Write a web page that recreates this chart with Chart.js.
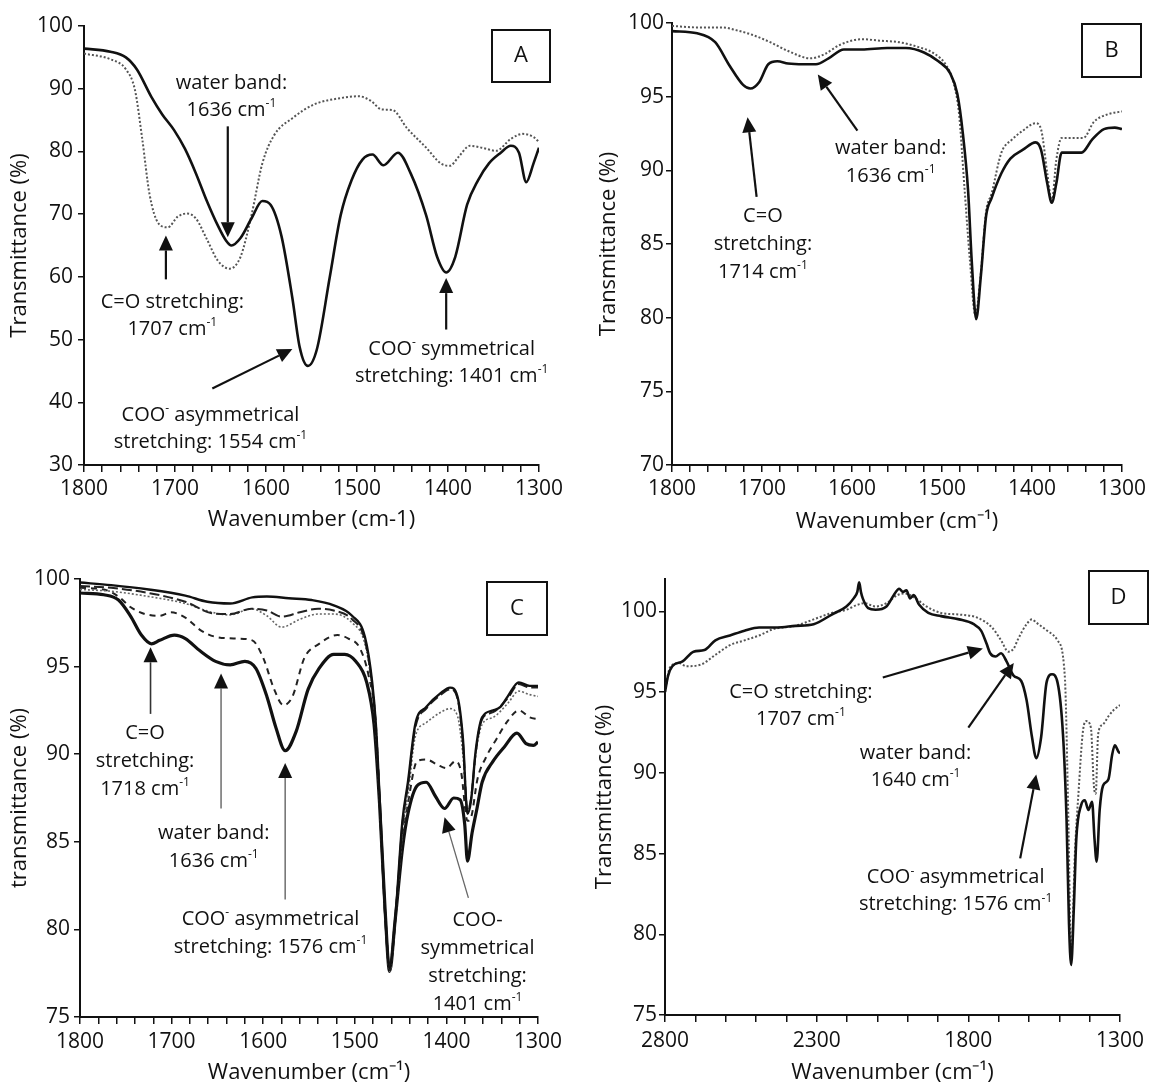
<!DOCTYPE html>
<html>
<head>
<meta charset="utf-8">
<script src="https://cdn.jsdelivr.net/npm/chart.js@4.4.1/dist/chart.umd.min.js"></script>
<style>
body { margin: 0; background: #fff; }
#fig { position: relative; width: 1150px; height: 1086px; }
.panel { position: absolute; width: 575px; height: 543px; }
</style>
</head>
<body>
<div id="fig">
  <div class="panel" style="left:0;top:0"><canvas id="chart-a" width="575" height="543"></canvas></div>
  <div class="panel" style="left:575px;top:0"><canvas id="chart-b" width="575" height="543"></canvas></div>
  <div class="panel" style="left:0;top:543px"><canvas id="chart-c" width="575" height="543"></canvas></div>
  <div class="panel" style="left:575px;top:543px"><canvas id="chart-d" width="575" height="543"></canvas></div>
</div>
<script>
// ---- panel A ----
const aSolidWn = [1800,1771,1754,1742,1726,1714,1701,1689,1677,1665,1653,1644,1638,1628,1616,1604,1595,1583,1571,1563,1554,1544,1530,1518,1506,1494,1483,1471,1455,1441,1424,1412,1402,1392,1379,1367,1355,1342,1331,1322,1314,1306,1300];
const aSolidT  = [96.4,95.9,95.0,93.1,88.7,85.9,83.4,80.4,76.5,72.1,68.2,65.8,65.0,66.2,69.3,72.1,71.5,66.5,56.6,48.8,45.8,48.5,59.9,69.8,75.4,78.7,79.5,77.8,79.8,76.5,69.8,63.2,60.7,63.2,71.5,75.4,78.1,79.8,80.9,79.8,75.1,78.1,80.6];
const aDotWn = [1800,1771,1754,1744,1736,1728,1718,1708,1697,1687,1677,1665,1653,1640,1628,1616,1604,1591,1571,1547,1518,1498,1485,1473,1461,1445,1424,1408,1398,1388,1376,1363,1347,1331,1318,1306,1300];
const aDotT  = [95.6,94.7,93.1,89.8,82.0,73.2,68.5,67.9,69.6,70.1,69.3,66.0,62.6,61.3,63.2,69.8,78.1,82.6,85.3,87.5,88.5,88.8,88.1,86.7,86.6,83.7,80.6,78.1,77.7,79.2,80.9,80.6,80.1,82.0,82.8,82.3,81.5];
const aXLabels = [1800,1700,1600,1500,1400,1300];
const aYLabels = [30,40,50,60,70,80,90,100];

// ---- panel B ----
const bSolidWn = [1800,1772,1752,1736,1721,1713,1703,1693,1683,1671,1654,1640,1626,1609,1589,1561,1540,1520,1504,1491,1483,1477,1471,1467,1462,1457,1451,1445,1434,1424,1410,1396,1390,1383,1378,1373,1367,1359,1345,1333,1320,1308,1300];
const bSolidT  = [99.45,99.3,98.7,97.1,95.8,95.55,96.0,97.2,97.4,97.25,97.2,97.2,97.6,98.2,98.2,98.3,98.3,98.0,97.4,96.6,95.2,92.6,88.6,83.9,79.9,82.7,86.9,88.1,89.8,90.8,91.4,91.9,91.4,89.1,87.8,89.1,91.2,91.2,91.2,92.1,92.8,92.9,92.8];
const bDotWn = [1800,1772,1744,1728,1711,1691,1671,1646,1630,1614,1589,1569,1548,1528,1508,1495,1487,1481,1475,1469,1463,1457,1451,1445,1434,1422,1410,1396,1390,1383,1378,1373,1367,1356,1343,1331,1316,1300];
const bDotT  = [99.8,99.7,99.7,99.5,99.2,98.7,98.1,97.6,97.9,98.5,98.9,98.8,98.7,98.4,97.9,97.1,95.9,93.8,88.8,83.9,80.2,82.9,87.2,88.4,91.2,92.1,92.7,93.2,92.8,89.8,87.9,90.7,92.2,92.2,92.2,93.3,93.8,94.0];
const bXLabels = [1800,1700,1600,1500,1400,1300];
const bYLabels = [70,75,80,85,90,95,100];

// ---- panel C ----
const cTopWn = [1800,1766,1725,1685,1661,1636,1612,1596,1572,1547,1523,1503,1489,1481,1477,1472,1467,1462,1456,1448,1442,1434,1422,1406,1396,1388,1382,1377,1373,1368,1361,1349,1341,1333,1321,1309,1300];
const cTopT  = [99.8,99.65,99.4,99.05,98.7,98.6,98.95,99.0,98.9,98.8,98.5,97.9,96.7,94.1,91.7,86.5,81.0,77.8,80.5,86.2,88.4,91.7,92.7,93.5,93.8,93.3,90.9,86.6,87.4,90.2,92.1,92.5,92.7,93.3,94.1,93.9,93.9];
const cLongWn = [1800,1766,1725,1685,1656,1636,1613,1596,1580,1560,1540,1523,1503,1489,1481,1477,1472,1467,1462,1456,1448,1442,1434,1422,1406,1396,1388,1382,1377,1373,1368,1361,1349,1333,1321,1309,1300];
const cLongT  = [99.6,99.5,99.2,98.7,98.05,98.0,98.3,98.2,97.85,98.1,98.3,98.2,97.7,96.5,93.9,91.5,86.3,80.9,77.7,80.4,86.0,88.2,91.5,92.6,93.4,93.7,93.2,90.7,86.8,87.5,90.1,92.0,92.4,93.2,94.0,93.8,93.8];
const cDotWn = [1800,1766,1725,1685,1656,1636,1613,1596,1580,1560,1540,1523,1503,1489,1481,1477,1472,1467,1462,1456,1448,1442,1434,1422,1406,1396,1388,1382,1377,1373,1368,1361,1349,1333,1321,1309,1300];
const cDotT  = [99.4,99.3,99.0,98.6,98.1,97.95,98.3,97.9,97.25,97.7,98.0,98.0,97.5,96.3,93.7,91.4,86.2,80.8,77.6,80.3,85.6,87.6,91.0,91.8,92.4,92.6,92.2,90.0,86.8,87.5,90.0,91.7,92.1,92.9,93.6,93.4,93.3];
const cDashWn = [1800,1774,1758,1745,1729,1713,1701,1685,1669,1652,1628,1612,1600,1588,1578,1568,1555,1539,1519,1507,1495,1485,1477,1472,1467,1462,1456,1448,1442,1432,1422,1410,1400,1390,1384,1377,1373,1366,1357,1345,1333,1321,1309,1300];
const cDashT  = [99.5,99.4,99.0,98.4,98.0,97.9,98.1,97.8,97.1,96.7,96.6,96.5,95.5,93.7,92.8,93.3,95.5,96.3,96.8,96.6,96.1,94.5,91.7,86.3,81.2,77.9,80.6,85.2,87.2,89.6,89.7,89.4,89.2,89.6,89.0,86.2,86.4,88.6,89.8,90.9,91.9,92.5,92.1,92.0];
const cThickWn = [1800,1774,1758,1745,1733,1722,1713,1697,1685,1669,1652,1636,1620,1608,1596,1586,1576,1564,1551,1539,1523,1511,1499,1487,1479,1473,1467,1462,1456,1448,1442,1432,1422,1412,1402,1392,1385,1380,1377,1372,1367,1361,1349,1337,1323,1313,1305,1300];
const cThickT  = [99.2,99.1,98.8,97.9,96.8,96.3,96.5,96.8,96.6,95.9,95.3,95.1,95.3,94.9,93.3,91.5,90.2,91.3,93.7,94.9,95.7,95.7,95.3,94.1,91.7,87.2,81.2,77.6,80.5,84.6,86.6,88.2,88.4,87.6,86.9,87.5,87.4,86.0,83.9,85.5,86.8,88.4,89.6,90.4,91.2,90.6,90.5,90.7];
const cXLabels = [1800,1700,1600,1500,1400,1300];
const cYLabels = [75,80,85,90,95,100];

// ---- panel D ----
const dSolidWn = [2800,2790,2776,2742,2706,2670,2634,2586,2538,2490,2430,2370,2310,2250,2202,2178,2166,2160,2154,2148,2130,2106,2070,2046,2028,2016,2004,1992,1980,1962,1932,1890,1830,1782,1758,1740,1728,1710,1692,1674,1650,1626,1608,1590,1576,1560,1542,1524,1506,1488,1476,1468,1461,1452,1444,1428,1416,1404,1392,1384,1377,1367,1356,1338,1326,1317,1305,1300];
const dSolidT  = [95.0,96.0,96.6,96.9,97.5,97.6,98.2,98.5,98.8,99.0,99.0,99.1,99.2,99.8,100.3,100.8,101.2,101.8,101.2,100.8,100.2,100.1,100.3,101.0,101.4,101.2,101.3,100.8,101.0,100.4,99.9,99.7,99.5,99.2,98.8,98.0,97.4,97.2,97.4,96.9,96.0,95.7,94.5,92.2,90.9,92.2,95.6,96.1,95.6,92.4,87.0,80.6,78.1,81.7,85.9,88.0,88.3,87.7,88.2,85.9,84.5,87.7,89.2,89.6,91.1,91.7,91.3,91.2];
const dDotWn = [2800,2784,2754,2730,2682,2634,2586,2538,2490,2442,2370,2310,2250,2202,2166,2142,2106,2070,2034,2010,1974,1938,1890,1830,1770,1722,1692,1668,1650,1638,1608,1590,1576,1540,1506,1482,1470,1461,1449,1437,1422,1410,1396,1386,1380,1372,1356,1338,1320,1300];
const dDotT  = [95.0,96.5,96.8,96.6,96.7,97.3,97.9,98.2,98.5,98.9,99.1,99.5,99.9,100.1,100.4,100.5,100.3,100.5,101.0,101.1,100.8,100.3,99.9,99.8,99.6,99.0,98.2,97.5,97.7,98.2,99.2,99.5,99.3,98.8,98.2,96.0,87.0,78.4,84.9,88.7,92.6,93.2,92.8,89.2,88.7,92.4,93.0,93.5,93.9,94.2];
const dXLabels = [2800,2300,1800,1300];
const dYLabels = [75,80,85,90,95,100];

const FONT = "'Open Sans', sans-serif";
const TICK_SIZE = 21, TITLE_SIZE = 22, NOTE_SIZE = 20;

function pts(wn, t) {
    return wn.map((x, i) => ({ x: x, y: t[i] }));
}

// text with ^{...} superscripts, centred on cx
function drawRich(ctx, text, cx, cy, size) {
    const parts = text.split(/\^\{(.*?)\}/);
    const supSize = Math.round(size * 0.62);
    let w = 0;
    parts.forEach((p, i) => {
        ctx.font = (i % 2 ? supSize : size) + 'px ' + FONT;
        w += ctx.measureText(p).width;
    });
    let x = cx - w / 2;
    ctx.textAlign = 'left';
    ctx.textBaseline = 'middle';
    parts.forEach((p, i) => {
        const sup = i % 2 === 1;
        ctx.font = (sup ? supSize : size) + 'px ' + FONT;
        ctx.fillText(p, x, sup ? cy - size * 0.33 : cy);
        x += ctx.measureText(p).width;
    });
}

function drawArrow(ctx, x1, y1, x2, y2, color, width) {
    const ang = Math.atan2(y2 - y1, x2 - x1);
    const len = 15, half = 7;
    const bx = x2 - len * Math.cos(ang), by = y2 - len * Math.sin(ang);
    ctx.strokeStyle = color;
    ctx.lineWidth = width;
    ctx.beginPath();
    ctx.moveTo(x1, y1);
    ctx.lineTo(bx, by);
    ctx.stroke();
    ctx.fillStyle = '#111';
    ctx.beginPath();
    ctx.moveTo(x2, y2);
    ctx.lineTo(bx + half * Math.sin(ang), by - half * Math.cos(ang));
    ctx.lineTo(bx - half * Math.sin(ang), by + half * Math.cos(ang));
    ctx.closePath();
    ctx.fill();
}

function notesPlugin(p) {
    return {
        id: 'notes',
        afterDraw(chart) {
            const ctx = chart.ctx;
            const xs = chart.scales.x, ys = chart.scales.y;
            ctx.save();
            p.arrows.forEach(a => {
                drawArrow(ctx, xs.getPixelForValue(a[0]), ys.getPixelForValue(a[1]),
                    xs.getPixelForValue(a[2]), ys.getPixelForValue(a[3]), a[4] || '#111', a[5] || 2.2);
            });
            p.notes.forEach(n => {
                const cx = xs.getPixelForValue(n.x), cy = ys.getPixelForValue(n.y);
                n.lines.forEach((l, i) => {
                    ctx.fillStyle = '#111';
                    drawRich(ctx, l, cx, cy + i * p.lineGap, NOTE_SIZE);
                });
            });
            // panel letter box
            const b = p.box;
            ctx.strokeStyle = '#111';
            ctx.lineWidth = 2;
            ctx.strokeRect(b[0], b[1], b[2], b[3]);
            ctx.fillStyle = '#111';
            ctx.font = '22px ' + FONT;
            ctx.textAlign = 'center';
            ctx.textBaseline = 'middle';
            ctx.fillText(p.letter, b[0] + b[2] / 2, b[1] + b[3] / 2);
            ctx.restore();
        }
    };
}

function makeChart(id, p) {
    const area = p.area;
    return new Chart(document.getElementById(id), {
        type: 'line',
        data: {
            datasets: p.series.map(s => ({
                data: s.data,
                borderColor: s.color,
                borderWidth: s.width,
                borderDash: s.dash || [],
                pointRadius: 0,
                fill: false,
                cubicInterpolationMode: 'monotone'
            }))
        },
        options: {
            responsive: false,
            animation: false,
            events: [],
            layout: { padding: { left: 0, top: area.top, right: 575 - area.right, bottom: 0 } },
            plugins: { legend: { display: false }, tooltip: { enabled: false } },
            scales: {
                x: {
                    type: 'linear', reverse: true, min: p.xMin, max: p.xMax,
                    afterFit: s => { s.height = 543 - area.bottom; },
                    border: { display: true, color: '#111', width: 2 },
                    grid: { drawOnChartArea: false, drawTicks: true, tickLength: 7, color: '#111', lineWidth: 1.5 },
                    ticks: {
                        stepSize: p.xStep, autoSkip: false, maxRotation: 0, padding: p.xPad,
                        color: '#111', font: { family: FONT, size: TICK_SIZE },
                        callback: v => p.xLabels.includes(v) ? String(v) : ''
                    },
                    title: { display: true, text: p.xTitle, color: '#111', font: { family: FONT, size: TITLE_SIZE },
                        padding: { top: 0, bottom: p.xTitlePad } }
                },
                y: {
                    min: p.yMin, max: p.yMax,
                    afterFit: s => { s.width = area.left; },
                    afterBuildTicks: s => { s.ticks = s.ticks.filter(t => p.yLabels.includes(t.value)); },
                    border: { display: true, color: '#111', width: 2 },
                    grid: { drawOnChartArea: false, drawTicks: true, tickLength: 6, color: '#111', lineWidth: 1.5 },
                    ticks: { stepSize: p.yStep, padding: p.yPad, color: '#111', font: { family: FONT, size: TICK_SIZE } },
                    title: { display: true, text: p.yTitle, color: '#111', font: { family: FONT, size: TITLE_SIZE },
                        padding: { top: p.yTitlePad, bottom: 0 } }
                }
            }
        },
        plugins: [notesPlugin(p)]
    });
}

const SOLID = '#111', DOT = '#555';

makeChart('chart-a', {
    area: { left: 84, right: 539, top: 26, bottom: 465 },
    xMin: 1300, xMax: 1800, xStep: 20, xLabels: aXLabels, xPad: 4, xTitlePad: 10,
    yMin: 30, yMax: 100, yStep: 10, yLabels: aYLabels, yPad: 5, yTitlePad: 7,
    xTitle: 'Wavenumber (cm-1)', yTitle: 'Transmittance (%)',
    series: [
        { data: pts(aSolidWn, aSolidT), color: SOLID, width: 2.6 },
        { data: pts(aDotWn, aDotT), color: DOT, width: 2, dash: [2, 2] }
    ],
    lineGap: 27,
    notes: [
        { x: 1638, y: 90.9, lines: ['water band:', '1636 cm^{-1}'] },
        { x: 1703, y: 56.0, lines: ['C=O stretching:', '1707 cm^{-1}'] },
        { x: 1661, y: 38.0, lines: ['COO^{-} asymmetrical', 'stretching: 1554 cm^{-1}'] },
        { x: 1396, y: 48.5, lines: ['COO^{-} symmetrical', 'stretching: 1401 cm^{-1}'] }
    ],
    arrows: [[1642, 84, 1642, 66.3], [1710, 59.6, 1710, 66.6], [1659, 42.2, 1571, 48.5], [1402, 51.6, 1402, 59.8]],
    box: [492, 30, 58, 52], letter: 'A'
});

makeChart('chart-b', {
    area: { left: 97, right: 552, top: 23, bottom: 465 },
    xMin: 1300, xMax: 1800, xStep: 20, xLabels: bXLabels, xPad: 4, xTitlePad: 8,
    yMin: 70, yMax: 100, yStep: 5, yLabels: bYLabels, yPad: 2, yTitlePad: 21,
    xTitle: 'Wavenumber (cm\u207B\u00B9)', yTitle: 'Transmittance (%)',
    series: [
        { data: pts(bSolidWn, bSolidT), color: SOLID, width: 2.6 },
        { data: pts(bDotWn, bDotT), color: DOT, width: 2, dash: [2, 2] }
    ],
    lineGap: 28,
    notes: [
        { x: 1699, y: 86.9, lines: ['C=O', 'stretching:', '1714 cm^{-1}'] },
        { x: 1557, y: 91.5, lines: ['water band:', '1636 cm^{-1}'] }
    ],
    arrows: [[1706, 88.2, 1716, 93.6], [1594, 92.7, 1638, 96.5]],
    box: [507, 24, 59, 53], letter: 'B'
});

makeChart('chart-c', {
    area: { left: 80, right: 538, top: 36, bottom: 474 },
    xMin: 1300, xMax: 1800, xStep: 20, xLabels: cXLabels, xPad: 5, xTitlePad: 0,
    yMin: 75, yMax: 100, yStep: 5, yLabels: cYLabels, yPad: 4, yTitlePad: 7,
    xTitle: 'Wavenumber (cm\u207B\u00B9)', yTitle: 'transmittance (%)',
    series: [
        { data: pts(cTopWn, cTopT), color: SOLID, width: 2.4 },
        { data: pts(cLongWn, cLongT), color: '#222', width: 2, dash: [10, 4] },
        { data: pts(cDotWn, cDotT), color: '#666', width: 1.6, dash: [2, 2] },
        { data: pts(cDashWn, cDashT), color: '#222', width: 2, dash: [6, 5] },
        { data: pts(cThickWn, cThickT), color: SOLID, width: 3.2 }
    ],
    lineGap: 28,
    notes: [
        { x: 1729, y: 91.2, lines: ['C=O', 'stretching:', '1718 cm^{-1}'] },
        { x: 1654, y: 85.5, lines: ['water band:', '1636 cm^{-1}'] },
        { x: 1592, y: 80.6, lines: ['COO^{-} asymmetrical', 'stretching: 1576 cm^{-1}'] },
        { x: 1366, y: 80.5, lines: ['COO-', 'symmetrical', 'stretching:', '1401 cm^{-1}'] }
    ],
    arrows: [[1723, 92.3, 1723, 96.1, '#333', 1.6], [1646, 86.9, 1646, 94.6, '#777', 1.6],
             [1576, 81.7, 1576, 89.5, '#777', 1.6], [1376, 81.8, 1402, 86.4, '#666', 1.3]],
    box: [487, 39, 60, 53], letter: 'C'
});

makeChart('chart-d', {
    area: { left: 90, right: 553, top: 36, bottom: 472 },
    xMin: 1300, xMax: 2800, xStep: 100, xLabels: dXLabels, xPad: 6, xTitlePad: 0,
    yMin: 75, yMax: 102, yStep: 5, yLabels: dYLabels, yPad: 2, yTitlePad: 17,
    xTitle: 'Wavenumber (cm\u207B\u00B9)', yTitle: 'Transmittance (%)',
    series: [
        { data: pts(dSolidWn, dSolidT), color: SOLID, width: 2.6 },
        { data: pts(dDotWn, dDotT), color: DOT, width: 2, dash: [2, 2] }
    ],
    lineGap: 27,
    notes: [
        { x: 2352, y: 95.0, lines: ['C=O stretching:', '1707 cm^{-1}'] },
        { x: 1974, y: 91.2, lines: ['water band:', '1640 cm^{-1}'] },
        { x: 1842, y: 83.5, lines: ['COO^{-} asymmetrical', 'stretching: 1576 cm^{-1}'] }
    ],
    arrows: [[2082, 95.9, 1752, 97.7], [1800, 92.8, 1650, 96.8], [1629, 84.7, 1576, 89.9]],
    box: [514, 28, 59, 53], letter: 'D'
});
</script>
</body>
</html>
